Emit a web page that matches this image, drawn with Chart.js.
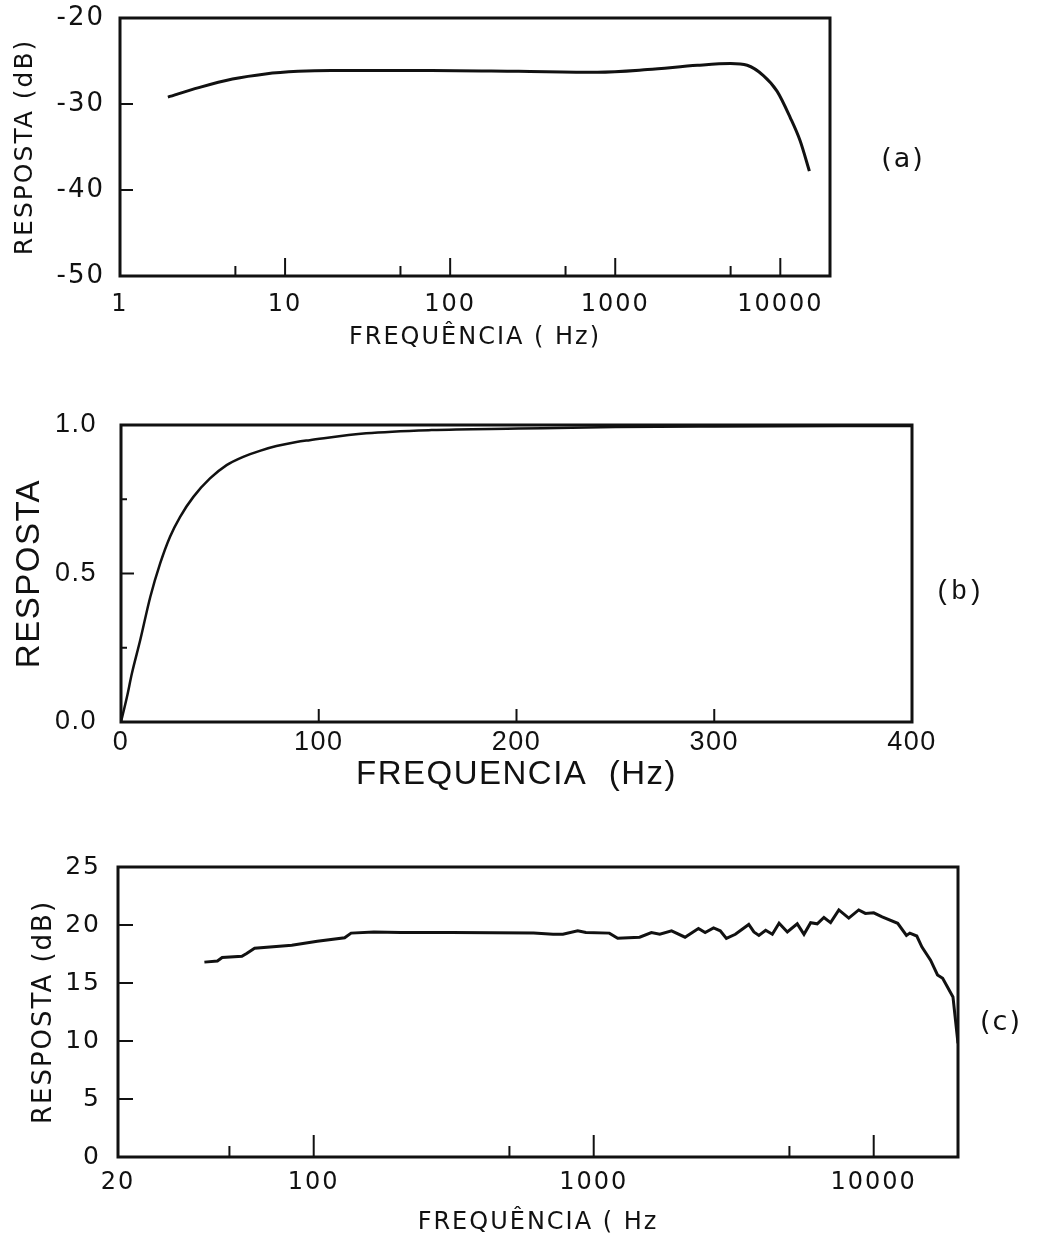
<!DOCTYPE html>
<html>
<head>
<meta charset="utf-8">
<script src="https://cdn.jsdelivr.net/npm/chart.js@4.4.0/dist/chart.umd.min.js"></script>
<style>
  body { margin: 0; background: #fff; width: 1039px; height: 1238px; position: relative; overflow: hidden; }
  canvas { position: absolute; left: 0; }
  .tag { position: absolute; color: #111; transform: translate(-50%, -50%); white-space: nowrap; }
</style>
</head>
<body>
<canvas id="chartA" width="1039" height="370" style="top:0px"></canvas>
<canvas id="chartB" width="1039" height="430" style="top:370px"></canvas>
<canvas id="chartC" width="1039" height="438" style="top:800px"></canvas>
<div class="tag" style="left:903px;top:157px;font:27px 'DejaVu Sans';letter-spacing:2px">(a)</div>
<div class="tag" style="left:959px;top:592px;font:27px 'Liberation Mono'">(b)</div>
<div class="tag" style="left:1001px;top:1020px;font:27px 'DejaVu Sans';letter-spacing:2px">(c)</div>
<script>
// (a) resposta em dB, eixo log 1 Hz - 20 kHz
const freqA = [1.95, 3, 4.8, 7.6, 12, 19, 77, 260, 780, 1570, 3150, 5000, 6300, 7900, 9550, 11500, 13200, 15000];
const respA = [-29.2, -28.1, -27.1, -26.5, -26.2, -26.1, -26.1, -26.2, -26.3, -26.0, -25.5, -25.3, -25.5, -26.7, -28.5, -31.6, -34.3, -37.8];
const xTicksA = [1, 10, 100, 1000, 10000];
const xMinorA = [5, 50, 500, 5000];
const yTicksA = [-50, -40, -30, -20];

// (b) resposta linear, 0 - 400 Hz
const freqB = [0, 3, 5.5, 9.7, 14.8, 19.8, 24.8, 29.9, 36.6, 45, 53.4, 61.8, 70.2, 78.6, 88.7, 95.4, 124, 157, 201, 250, 300, 400];
const respB = [0, 0.084, 0.163, 0.275, 0.421, 0.534, 0.624, 0.691, 0.758, 0.820, 0.865, 0.893, 0.913, 0.929, 0.943, 0.949, 0.972, 0.983, 0.988, 0.993, 0.995, 0.997];
const xTicksB = [0, 100, 200, 300, 400];
const yTicksB = [0, 0.5, 1];
const yMinorB = [0.25, 0.75];

// (c) resposta em dB, eixo log 20 Hz - 20 kHz
const freqC = [40.7, 45.3, 47.1, 55.4, 57.6, 61.5, 83.5, 103, 129, 136, 164, 205, 309, 610, 716, 776, 877, 938, 1137, 1218,
  1459, 1607, 1722, 1897, 2119, 2366, 2500, 2679, 2831, 2977, 3206, 3579, 3733, 3890, 4112, 4345, 4592, 4915, 5333, 5636,
  5954, 6285, 6640, 7015, 7507, 8146, 8839, 9336, 10000, 10720, 12180, 13090, 13460, 14250, 14870, 15960, 16900, 17630, 19190, 20000];
const respC = [16.8, 16.9, 17.2, 17.3, 17.55, 18.0, 18.25, 18.6, 18.9, 19.3, 19.4, 19.35, 19.35, 19.3, 19.2, 19.2, 19.5, 19.35, 19.3, 18.85,
  18.95, 19.35, 19.2, 19.5, 18.95, 19.7, 19.35, 19.75, 19.5, 18.85, 19.2, 20.05, 19.4, 19.1, 19.55, 19.2, 20.15, 19.4, 20.1, 19.2,
  20.2, 20.1, 20.65, 20.2, 21.3, 20.6, 21.3, 21.0, 21.05, 20.7, 20.15, 19.1, 19.3, 19.05, 18.1, 16.97, 15.7, 15.4, 13.8, 9.8];
const xTicksC = [20, 100, 1000, 10000];
const xMinorC = [50, 500, 5000];
const yTicksC = [0, 5, 10, 15, 20, 25];

const ink = '#111';

// letter spacing for the lettering look of the old figure
const spacing = {
  id: 'spacing',
  beforeUpdate(chart, args, opts) { chart.ctx.letterSpacing = opts.px + 'px'; },
  beforeDraw(chart, args, opts) { chart.ctx.letterSpacing = opts.px + 'px'; }
};

// box around the plot + inward tick marks
const frame = {
  id: 'frame',
  afterDraw(chart, args, o) {
    const { ctx, chartArea: a } = chart;
    const x = chart.scales.x, y = chart.scales.y;
    ctx.save();
    ctx.strokeStyle = ink;
    ctx.lineWidth = o.lineWidth;
    ctx.strokeRect(a.left, a.top, a.right - a.left, a.bottom - a.top);
    ctx.lineWidth = 2;
    const mark = (vals, len, horiz) => vals.forEach(v => {
      ctx.beginPath();
      if (horiz) {
        const px = x.getPixelForValue(v);
        ctx.moveTo(px, a.bottom); ctx.lineTo(px, a.bottom - len);
      } else {
        const py = y.getPixelForValue(v);
        ctx.moveTo(a.left, py); ctx.lineTo(a.left + len, py);
      }
      ctx.stroke();
    });
    mark(o.xMajor, o.xMajorLen, true);
    mark(o.xMinor, o.xMinorLen, true);
    mark(o.yMajor, o.yMajorLen, false);
    mark(o.yMinor, o.yMinorLen, false);
    ctx.restore();
  }
};

function makeChart(id, s) {
  return new Chart(document.getElementById(id), {
    type: 'line',
    data: {
      datasets: [{
        data: s.freq.map((f, i) => ({ x: f, y: s.resp[i] })),
        borderColor: ink,
        borderWidth: s.curveWidth,
        pointRadius: 0,
        tension: s.smooth ? 0.4 : 0,
        cubicInterpolationMode: s.smooth ? 'monotone' : 'default'
      }]
    },
    options: {
      responsive: false,
      animation: false,
      layout: { padding: s.padding },
      plugins: {
        legend: { display: false },
        tooltip: { enabled: false },
        spacing: { px: s.spacing },
        frame: s.frame
      },
      scales: {
        x: {
          type: s.xType, min: s.xMin, max: s.xMax,
          afterBuildTicks: ax => { ax.ticks = s.xTicks.map(v => ({ value: v })); },
          afterFit: ax => { ax.height = s.xHeight; },
          grid: { display: false, drawTicks: false },
          border: { display: false },
          ticks: {
            autoSkip: false, maxRotation: 0, color: ink, padding: s.xTickPad,
            font: { family: s.font, size: s.xTickSize },
            callback: v => String(v)
          },
          title: {
            display: true, text: s.xTitle, color: ink,
            font: { family: s.font, size: s.xTitleSize },
            padding: { top: 0, bottom: s.xTitlePad }
          }
        },
        y: {
          min: s.yMin, max: s.yMax,
          afterBuildTicks: ax => { ax.ticks = s.yTicks.map(v => ({ value: v })); },
          // fixed axis width, and no extra room reserved above the top label
          afterFit: ax => { ax.width = s.yWidth; ax.paddingTop = 0; ax.paddingBottom = 0; },
          grid: { display: false, drawTicks: false },
          border: { display: false },
          ticks: {
            autoSkip: false, color: ink, padding: s.yTickPad,
            font: { family: s.font, size: s.yTickSize },
            callback: s.yFormat
          },
          title: {
            display: true, text: s.yTitle, color: ink,
            font: { family: s.font, size: s.yTitleSize },
            padding: { top: s.yTitlePad, bottom: 0 }
          }
        }
      }
    },
    plugins: [spacing, frame]
  });
}

makeChart('chartA', {
  freq: freqA, resp: respA, smooth: true, curveWidth: 3,
  padding: { top: 18, right: 209, left: 0, bottom: 0 },
  spacing: 2, font: 'DejaVu Sans',
  xType: 'logarithmic', xMin: 1, xMax: 20000, xTicks: xTicksA, xHeight: 94,
  xTickPad: 14, xTickSize: 24, xTitle: 'FREQUÊNCIA ( Hz)', xTitleSize: 24, xTitlePad: 18,
  yMin: -50, yMax: -20, yTicks: yTicksA, yWidth: 120, yTickPad: 15, yTickSize: 26,
  yFormat: v => String(v), yTitle: 'RESPOSTA (dB)', yTitleSize: 25, yTitlePad: 10,
  frame: { lineWidth: 3, xMajor: [10, 100, 1000, 10000], xMajorLen: 18, xMinor: xMinorA, xMinorLen: 10,
           yMajor: [-40, -30], yMajorLen: 13, yMinor: [], yMinorLen: 0 }
});

makeChart('chartB', {
  freq: freqB, resp: respB, smooth: true, curveWidth: 2.5,
  padding: { top: 55, right: 127, left: 0, bottom: 0 },
  spacing: 1.5, font: 'Liberation Sans',
  xType: 'linear', xMin: 0, xMax: 400, xTicks: xTicksB, xHeight: 78,
  xTickPad: 4, xTickSize: 27, xTitle: 'FREQUENCIA  (Hz)', xTitleSize: 33, xTitlePad: 5,
  yMin: 0, yMax: 1, yTicks: yTicksB, yWidth: 121, yTickPad: 24, yTickSize: 27,
  yFormat: v => v.toFixed(1), yTitle: 'RESPOSTA', yTitleSize: 33, yTitlePad: 10,
  frame: { lineWidth: 3, xMajor: [100, 200, 300], xMajorLen: 13, xMinor: [], xMinorLen: 0,
           yMajor: [0.5], yMajorLen: 13, yMinor: yMinorB, yMinorLen: 6 }
});

makeChart('chartC', {
  freq: freqC, resp: respC, smooth: false, curveWidth: 3,
  padding: { top: 67, right: 81, left: 0, bottom: 0 },
  spacing: 2, font: 'DejaVu Sans',
  xType: 'logarithmic', xMin: 20, xMax: 20000, xTicks: xTicksC, xHeight: 81,
  xTickPad: 11, xTickSize: 24, xTitle: 'FREQUÊNCIA ( Hz', xTitleSize: 24, xTitlePad: 1,
  yMin: 0, yMax: 25, yTicks: yTicksC, yWidth: 118, yTickPad: 17, yTickSize: 25,
  yFormat: v => String(v), yTitle: 'RESPOSTA (dB)', yTitleSize: 26, yTitlePad: 29,
  frame: { lineWidth: 3, xMajor: [100, 1000, 10000], xMajorLen: 22, xMinor: xMinorC, xMinorLen: 11,
           yMajor: [5, 10, 15, 20], yMajorLen: 15, yMinor: [], yMinorLen: 0 }
});
</script>
</body>
</html>
